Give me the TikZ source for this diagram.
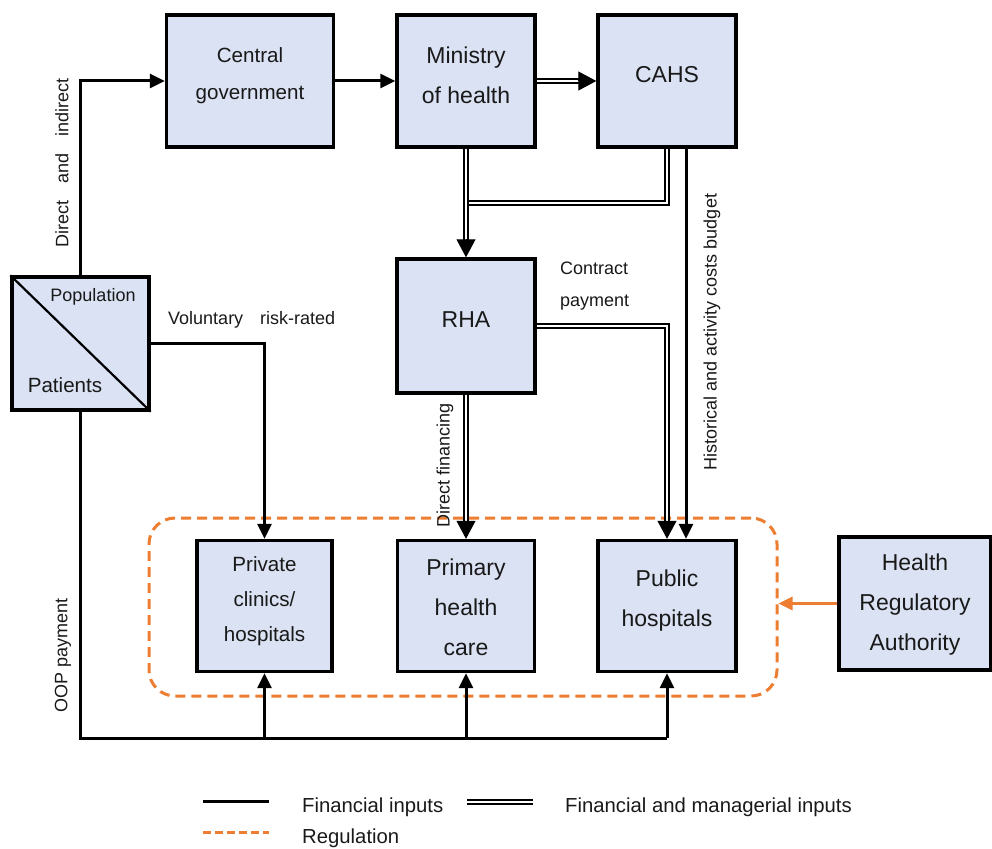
\documentclass[tikz,border=0pt]{standalone}
\usepackage{fontspec}
\setmainfont{Liberation Sans}
\usetikzlibrary{arrows.meta,calc}
\definecolor{boxfill}{RGB}{218,226,243}
\definecolor{regorange}{RGB}{237,125,49}
\definecolor{txt}{RGB}{25,25,25}
\begin{document}
\begin{tikzpicture}[x=1pt,y=-1pt,
  box/.style={draw=black,line width=3.4pt,fill=boxfill,inner sep=0pt},
  bigtxt/.style={font=\fontsize{23}{40}\selectfont,text=txt,align=center,inner sep=0pt},
  medtxt/.style={font=\fontsize{20.6}{37}\selectfont,text=txt,align=center,inner sep=0pt},
  lbl/.style={font=\fontsize{18}{32}\selectfont,text=txt,inner sep=0pt},
  legtxt/.style={font=\fontsize{20.3}{24}\selectfont,text=txt,inner sep=0pt,anchor=west},
  tip/.style={-{Triangle[length=15pt,width=14pt]}},
  bigtip/.style={-{Triangle[length=18pt,width=19pt]}},
  fin/.style={draw=black,line width=3pt,tip},
  finline/.style={draw=black,line width=3pt},
  tiponly/.style={draw=black,line width=1pt,bigtip},
  dbl/.style={draw=black,double=white,line width=1.5pt,double distance=2.4pt},
  regline/.style={draw=regorange,line width=3pt,dash pattern=on 10pt off 6pt},
]
\useasboundingbox (0,0) rectangle (992,848);

% regulation frame
\node[regline,rounded corners=26pt,minimum width=628pt,minimum height=178pt,inner sep=0pt] (reg) at (463,607) {};

% boxes
\node[box,minimum width=167pt,minimum height=132pt,
  label={[name=cgtxt,medtxt,yshift=5pt]center:Central\\government}] (cg) at (250,81) {};
\node[box,minimum width=138pt,minimum height=132pt,
  label={[name=mohtxt,bigtxt,yshift=6pt]center:Ministry\\of health}] (moh) at (466,81) {};
\node[box,minimum width=138pt,minimum height=132pt,
  label={[name=cahstxt,bigtxt,yshift=6pt]center:CAHS}] (cahs) at (667,81) {};
\node[box,minimum width=138pt,minimum height=134pt,
  label={[name=rhatxt,bigtxt,yshift=6pt]center:RHA}] (rha) at (466,326) {};
\node[box,minimum width=137pt,minimum height=133pt] (pop) at (80.5,343.5) {};
\draw[line width=2.2pt] (pop.north west) -- (pop.south east);
\node[lbl] (poptxt) at (93,297) {Population};
\node[font=\fontsize{20.6}{24}\selectfont,text=txt,inner sep=0pt] (pattxt) at (65,385) {Patients};
\node[box,minimum width=135pt,minimum height=131pt,
  label={[name=privtxt,medtxt,font=\fontsize{20.6}{35}\selectfont,yshift=5pt]center:Private\\clinics/\\hospitals}] (priv) at (264.5,606) {};
\node[box,minimum width=137pt,minimum height=131pt,
  label={[name=phctxt,bigtxt,yshift=-1pt]center:Primary\\health\\care}] (phc) at (466,606) {};
\node[box,minimum width=138pt,minimum height=131pt,
  label={[name=pubtxt,bigtxt,yshift=5pt]center:Public\\hospitals}] (pub) at (667,606) {};
\node[box,minimum width=152pt,minimum height=133pt,
  label={[name=hratxt,bigtxt,yshift=-1.5pt]center:Health\\Regulatory\\Authority}] (hra) at (915,603.5) {};

% connectors
\draw[fin] (pop.north) |- (cg.west);
\draw[fin] (cg.east) -- (moh.west);
% ministry -> CAHS (double)
\draw[dbl] (moh.east) -- ([xshift=-15pt]cahs.west);
\draw[tiponly] ([xshift=-18pt]cahs.west) -- (cahs.west);
% CAHS -> join (double)
\coordinate (join) at (466,203);
\draw[dbl] (cahs.south) |- (join);
% ministry -> RHA (double)
\draw[dbl] (moh.south) -- ([yshift=15pt]rha.north);
\draw[tiponly] ([yshift=18pt]rha.north) -- (rha.north);
% CAHS -> public hospitals (single)
\draw[fin] ([xshift=19pt]cahs.south) -- ([xshift=19pt]pub.north);
% RHA -> public hospitals (double)
\draw[dbl] (rha.east) -| ([yshift=15pt]pub.north);
\draw[tiponly] ([yshift=18pt]pub.north) -- (pub.north);
% RHA -> primary health care (double)
\draw[dbl] (rha.south) -- ([yshift=15pt]phc.north);
\draw[tiponly] ([yshift=18pt]phc.north) -- (phc.north);
% population -> private
\draw[fin] (pop.east) -| (priv.north);
% OOP payments
\coordinate (bl) at (80.5,738);
\coordinate (br) at (667,738);
\draw[finline] (pop.south) -- (bl) -- (br);
\draw[fin] (priv.south |- bl) -- (priv.south);
\draw[fin] (phc.south |- bl) -- (phc.south);
\draw[fin] (br) -- (pub.south);
% regulation
\draw[draw=regorange,line width=2.8pt,-{Triangle[length=14pt,width=13pt]}] (hra.west) -- (reg.east |- hra.west);

% labels
\node[lbl,rotate=90] (l1) at (62,162.5) {Direct\hspace{17pt}and\hspace{17pt}indirect};
\node[lbl,anchor=west] (l2) at (168,320) {Voluntary\hspace{17pt}risk-rated};
\node[lbl,align=left,anchor=west] (l3) at (560,286) {Contract\\payment};
\node[lbl,rotate=90] (l4) at (712,332) {Historical and activity costs budget};
\node[lbl,rotate=90] (l5) at (445,465) {Direct financing};
\node[lbl,rotate=90] (l6) at (63,655) {OOP payment};

% legend
\coordinate (k1a) at (203,801); \coordinate (k1b) at (269,801);
\draw[finline] (k1a) -- (k1b);
\node[legtxt] (k1t) at (302,807) {Financial inputs};
\coordinate (k2a) at (467,802); \coordinate (k2b) at (533,802);
\draw[dbl] (k2a) -- (k2b);
\node[legtxt] (k2t) at (565,807) {Financial and managerial inputs};
\coordinate (k3a) at (203,832); \coordinate (k3b) at (269,832);
\draw[regline,dash pattern=on 8pt off 4pt] (k3a) -- (k3b);
\node[legtxt] (k3t) at (302,838) {Regulation};
\end{tikzpicture}
\end{document}
